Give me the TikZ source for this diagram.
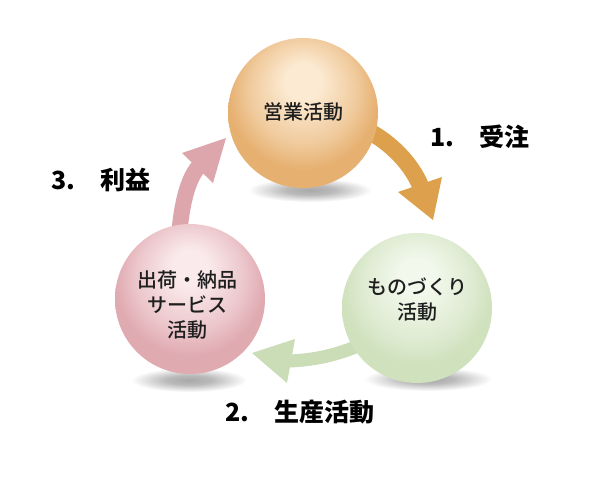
\documentclass[tikz,border=0pt]{standalone}
\usepackage{fontspec}
\setmainfont{Noto Sans CJK JP}
\newfontfamily\jpmed{Noto Sans CJK JP Medium}
\usetikzlibrary{calc}
\definecolor{oL}{HTML}{FCEAD2}
\definecolor{oD}{HTML}{E6B070}
\definecolor{gL}{HTML}{F2F8EC}
\definecolor{gD}{HTML}{CFE1BD}
\definecolor{pL}{HTML}{FAEAEC}
\definecolor{pD}{HTML}{E0AAB1}
\colorlet{oM}{oL!45!oD}
\colorlet{gM}{gL!45!gD}
\colorlet{pM}{pL!45!pD}
\definecolor{oA}{HTML}{DDA04C}
\definecolor{gA}{HTML}{CBDDB6}
\definecolor{pA}{HTML}{DDA6AC}
\definecolor{txt}{HTML}{1E1E1E}
\pgfdeclareradialshading{sphO}{\pgfpoint{0bp}{12bp}}{color(0bp)=(oL); color(6bp)=(oL); color(18bp)=(oM); color(25bp)=(oD); color(50bp)=(oD)}
\pgfdeclareradialshading{sphG}{\pgfpoint{0bp}{12bp}}{color(0bp)=(gL); color(6bp)=(gL); color(18bp)=(gM); color(25bp)=(gD); color(50bp)=(gD)}
\pgfdeclareradialshading{sphP}{\pgfpoint{0bp}{12bp}}{color(0bp)=(pL); color(6bp)=(pL); color(18bp)=(pM); color(25bp)=(pD); color(50bp)=(pD)}
\pgfdeclareradialshading{shad}{\pgfpointorigin}{color(0bp)=(black!34); color(10bp)=(black!27); color(25bp)=(white); color(50bp)=(white)}
\begin{document}
\begin{tikzpicture}[x=1pt,y=-1pt,
  sphere/.style={circle, minimum size=150pt, inner sep=0pt, shade},
  intext/.style={text=txt, align=center, font=\jpmed\fontsize{20}{25}\selectfont},
  lab/.style={text=black, font=\bfseries\fontsize{25}{28}\selectfont},
  shadowell/.style={shading=shad}]
\useasboundingbox (0,0) rectangle (614,488);
\fill[white] (0,0) rectangle (614,488);
% shadows
\shade[shadowell] (310,190) ellipse [x radius=62, y radius=12];
\shade[shadowell] (428,379) ellipse [x radius=64, y radius=12];
\shade[shadowell] (189,380) ellipse [x radius=58, y radius=12];
% arrow anchor coordinates
\coordinate (oS) at (362,128);
\coordinate (oE) at (421,187);
\coordinate (oL) at (398,192);
\coordinate (oT) at (433,220);
\coordinate (oR) at (442,177);
\coordinate (gS) at (380,335);
\coordinate (gE) at (289,361);
\coordinate (gU) at (295,339);
\coordinate (gT) at (252,353);
\coordinate (gB) at (287,383);
\coordinate (pS) at (178,250);
\coordinate (pE) at (199,166);
\coordinate (pL) at (182,153);
\coordinate (pT) at (226,138);
\coordinate (pR) at (213,183);
% arrows
\draw[oA, line width=17pt] (oS) .. controls (385,138) and (410,160) .. (oE);
\fill[oA] (oL) -- (oT) -- (oR) -- cycle;
\draw[gA, line width=13pt] (gS) .. controls (350,352) and (320,360) .. (gE);
\fill[gA] (gU) -- (gT) -- (gB) -- cycle;
\draw[pA, line width=16pt] (pS) .. controls (180,215) and (185,182) .. (pE);
\fill[pA] (pL) -- (pT) -- (pR) -- cycle;
% spheres
\node[sphere, shading=sphO] (sales) at (303,113) {};
\node[sphere, shading=sphG] (make) at (417,308) {};
\node[sphere, shading=sphP] (ship) at (190,299) {};
\node[intext] (salesT) at (303,112) {営業活動};
\node[intext] (makeT) at (417,300) {ものづくり\\活動};
\node[intext] (shipT) at (187,305) {出荷・納品\\サービス\\活動};
% labels
\node[lab] (l1) at (480,137) {1.　受注};
\node[lab] (l2) at (300,412) {2.　生産活動};
\node[lab] (l3) at (101,180) {3.　利益};
\end{tikzpicture}
\end{document}
